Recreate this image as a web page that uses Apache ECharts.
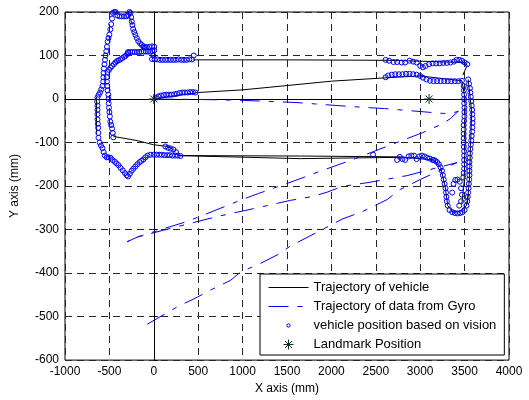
<!DOCTYPE html>
<html>
<head>
<meta charset="utf-8">
<script src="https://cdn.jsdelivr.net/npm/echarts@6/dist/echarts.min.js"></script>
<style>
  html, body { margin: 0; padding: 0; background: #fff; }
  #chart { width: 529px; height: 400px; }
</style>
</head>
<body>
<div id="chart"></div>
<script>
// axis ticks
const xTicks = [-1000, 4000, 500];
const yTicks = [-600, 200, 100];

// landmarks
const landmarks = [[0, 0], [3100, 0]];

// vehicle trajectory (black), drawn as separate visible pieces
const vehicleMid = [[0, 0], [500, 15], [1000, 21], [1500, 31], [2000, 41], [2630, 49], [3000, 53], [3470, 42], [3505, 0], [3505, -100], [3495, -190], [3470, -240]];
const vehicleTop = [[445, 90], [1500, 90], [2628, 89], [3000, 87], [3480, 84], [3530, 78], [3480, 55]];
const vehicleRight = [[3540, 45], [3580, -30], [3565, -120], [3555, -180], [3540, -220], [3530, -240]];
const vehicleU = [[3150, -140], [3230, -157], [3280, -200], [3310, -245], [3370, -260], [3450, -258], [3520, -245], [3540, -220]];
const vehicleBottom1 = [[277, -130], [1650, -131], [2774, -133], [3150, -140]];
const vehicleBottom2 = [[277, -130], [1650, -137], [2774, -134]];
const vehicleLeftLow = [[-454, -86], [-200, -95], [-4, -105], [153, -109], [220, -116]];
const vehicleLeftEdge = [[-646, 5], [-646, -80]];
const vehiclePeak = [[-290, 198], [-241, 171]];

// gyro trajectory (blue dash-dot)
const gyro = [[0, 0], [500, -1], [1000, -3], [1600, -8], [2200, -17], [2600, -22], [2900, -27], [3250, -33], [3350, -33], [3430, -28],
  [3340, -45], [3260, -56], [3030, -77], [2660, -106], [2270, -137], [1900, -164], [1570, -189], [1180, -217], [970, -233], [580, -265], [380, -281], [-170, -316], [-300, -328],
  [-200, -318], [100, -302], [445, -284], [715, -270], [1121, -252], [1537, -233], [1785, -224], [1953, -214], [2121, -201], [2414, -192], [2853, -176], [3112, -162], [3415, -146], [3430, -150],
  [3000, -185], [2774, -208], [2628, -231], [2358, -258], [2121, -276], [1841, -306], [1537, -338], [1402, -357], [1199, -378], [974, -398], [862, -417], [659, -437], [445, -460], [277, -476], [-128, -524]];

// vision positions (blue circles)
const visionStart = [[20, 3], [50, 6], [80, 8], [110, 9], [140, 10], [170, 10], [200, 10], [230, 11], [260, 12], [290, 14], [320, 15], [350, 15], [380, 15], [410, 16], [440, 16], [470, 15]];
const visionTopLeft = [[-20, 92], [10, 91], [40, 91], [70, 90], [100, 90], [130, 90], [160, 90], [190, 90], [220, 90], [250, 90], [280, 91], [310, 90], [340, 90], [370, 90], [400, 91], [430, 91], [450, 100], [-5, 100]];
const visionBand = [[-290, 108], [-265, 108], [-240, 108], [-215, 108], [-190, 108], [-165, 108], [-140, 109], [-115, 109], [-90, 109], [-65, 109], [-40, 109], [-15, 110], [5, 112],
  [-110, 118], [-80, 119], [-50, 120], [-20, 121], [5, 120]];
const visionPeak = [[-460, 198], [-445, 200], [-430, 200], [-410, 192], [-385, 190], [-360, 190], [-335, 190], [-310, 190], [-290, 193], [-275, 200], [-262, 198],
  [-255, 188], [-248, 178], [-241, 170], [-232, 161], [-220, 154], [-207, 147], [-192, 140], [-175, 133], [-155, 128], [-135, 124], [-115, 121], [-95, 119]];
const visionOuterLeft = [[-470, 185], [-480, 172], [-490, 160], [-500, 148], [-510, 140], [-520, 132], [-528, 120], [-535, 110], [-544, 100], [-550, 90], [-556, 80], [-562, 70], [-566, 60], [-568, 50],
  [-570, 40], [-578, 30], [-592, 22], [-605, 15], [-620, 10], [-634, 4], [-638, -6], [-634, -15], [-634, -25], [-634, -35], [-634, -47], [-630, -57], [-626, -66], [-624, -78], [-623, -89],
  [-610, -100], [-595, -107], [-578, -113], [-565, -122], [-552, -130], [-530, -134], [-510, -134], [-488, -135], [-465, -140], [-440, -144], [-420, -148], [-398, -152], [-375, -158],
  [-350, -164], [-325, -170], [-305, -175], [-290, -178], [-270, -172], [-250, -165], [-230, -160], [-207, -155], [-185, -150], [-160, -145], [-140, -142], [-117, -139], [-95, -134], [-70, -130]];
const visionInnerLeft = [[-522, 62], [-505, 67], [-488, 72], [-470, 76], [-450, 80], [-432, 84], [-415, 87], [-398, 89], [-376, 91], [-355, 94], [-335, 97], [-319, 99], [-300, 103], [-286, 106],
  [-530, 50], [-528, 40], [-524, 30], [-520, 20], [-512, 10], [-510, 0], [-508, -10], [-505, -20], [-500, -30], [-495, -40], [-490, -52], [-480, -60], [-470, -68], [-462, -78], [-456, -88]];
const visionBottomLeft = [[-38, -128], [0, -128], [30, -128], [60, -128], [90, -128], [120, -129], [150, -129], [180, -129], [210, -130], [240, -130], [270, -130], [300, -131],
  [130, -109], [160, -112], [190, -114], [220, -116], [250, -122]];
const visionRow1 = [[2610, 90], [2650, 88], [2700, 85], [2740, 85], [2790, 84], [2830, 84], [2880, 88], [2920, 86], [2960, 84], [3000, 76], [3030, 73], [3060, 76], [3100, 80], [3140, 82],
  [3180, 82], [3220, 82], [3260, 83], [3300, 83], [3340, 84], [3380, 86], [3410, 90], [3440, 90], [3470, 88], [3500, 84], [3530, 80]];
const visionRow2 = [[2610, 50], [2640, 54], [2680, 56], [2720, 57], [2760, 57], [2800, 57], [2840, 58], [2880, 58], [2920, 57], [2960, 56], [3000, 53], [3030, 49], [3070, 45], [3110, 42],
  [3150, 41], [3190, 41], [3230, 41], [3270, 41], [3310, 41], [3350, 41], [3390, 41], [3430, 41], [3470, 42]];
const visionColA = [[3490, 30], [3492, 20], [3494, 10], [3495, 0], [3496, -10], [3498, -20], [3498, -30], [3498, -40], [3495, -50], [3490, -60], [3490, -70], [3490, -80], [3490, -90],
  [3490, -100], [3492, -110], [3495, -120], [3495, -130], [3495, -140], [3495, -150], [3495, -160], [3490, -170], [3485, -180]];
const visionColB = [[3540, 45], [3550, 35], [3560, 25], [3565, 15], [3570, 5], [3575, -5], [3580, -15], [3585, -25], [3588, -35], [3590, -45], [3590, -55], [3588, -65], [3585, -75],
  [3580, -85], [3575, -95], [3570, -105], [3565, -115], [3560, -125], [3558, -135], [3555, -145], [3555, -155], [3555, -165], [3555, -175], [3552, -185], [3548, -195], [3545, -205],
  [3540, -215], [3535, -225], [3530, -235], [3520, -245], [3500, -255], [3475, -260], [3450, -262], [3420, -263], [3390, -262], [3360, -260], [3330, -255], [3310, -245], [3300, -235],
  [3295, -225], [3290, -215], [3285, -205], [3275, -195], [3265, -185], [3255, -175], [3245, -165], [3230, -157], [3210, -150], [3190, -145], [3170, -142], [3150, -140]];
const visionInnerRight = [[3360, -215], [3375, -195], [3395, -186], [3420, -185], [3445, -190], [3460, -205], [3470, -220], [3460, -235], [3440, -245]];
const visionBottomRight = [[2470, -128], [2740, -140], [2770, -133], [2800, -138], [2830, -140], [2870, -132], [2900, -130], [2930, -130], [2960, -138], [2990, -132], [3020, -130],
  [3050, -132], [3080, -135], [3110, -137], [3140, -140]];

const vision = [].concat(visionStart, visionTopLeft, visionBand, visionPeak, visionOuterLeft, visionInnerLeft,
  visionBottomLeft, visionRow1, visionRow2, visionColA, visionColB, visionInnerRight, visionBottomRight);

const font = "Liberation Sans, Arial, Helvetica, sans-serif";
const blue = "#0000ff";
const landmarkColor = "#10302e";
const asterisk = "path://M0,-10L0,10M-10,0L10,0M-7,-7L7,7M-7,7L7,-7";
const clear = "rgba(0,0,0,0)";
const gyroDash = [20, 9, 5, 9];

const chart = echarts.init(document.getElementById("chart"), null, { renderer: "canvas" });

function vehicleSeries(data) {
  return {
    name: "Trajectory of vehicle",
    type: "line",
    data: data,
    symbol: "none",
    silent: true,
    z: 2,
    itemStyle: { color: clear, borderWidth: 0 },
    lineStyle: { color: "#000", width: 1 },
  };
}

const option = {
  animation: false,
  backgroundColor: "#fff",
  textStyle: { fontFamily: font },
  grid: {
    left: 65,
    right: 20,
    top: 12,
    bottom: 39,
    show: true,
    borderColor: "#000",
    borderWidth: 1,
    backgroundColor: "transparent",
  },
  xAxis: {
    type: "value",
    min: xTicks[0],
    max: xTicks[1],
    interval: xTicks[2],
    name: "X axis (mm)",
    nameLocation: "middle",
    nameGap: 19,
    nameTextStyle: { fontSize: 12, color: "#000", fontFamily: font },
    axisLine: { show: true, lineStyle: { color: "#000", width: 1 } },
    axisTick: { inside: true, length: 4, lineStyle: { color: "#000" } },
    axisLabel: { fontSize: 12, color: "#000", margin: 6, fontFamily: font, formatter: v => String(v) },
    splitLine: { show: true, lineStyle: { color: "#262626", type: [7, 5], width: 1 } },
  },
  yAxis: {
    type: "value",
    min: yTicks[0],
    max: yTicks[1],
    interval: yTicks[2],
    name: "Y axis (mm)",
    nameLocation: "middle",
    nameGap: 44,
    nameTextStyle: { fontSize: 12, color: "#000", fontFamily: font },
    axisLine: { show: true, lineStyle: { color: "#000", width: 1 } },
    axisTick: { inside: true, length: 4, lineStyle: { color: "#000" } },
    axisLabel: { fontSize: 12, color: "#000", margin: 6, fontFamily: font, formatter: v => String(v) },
    splitLine: { show: true, lineStyle: { color: "#262626", type: [7, 5], width: 1 } },
  },
  legend: {
    orient: "vertical",
    left: 260,
    top: 274,
    padding: [7, 8, 4, 8],
    itemGap: 6,
    itemWidth: 40,
    itemHeight: 10,
    backgroundColor: "#fff",
    borderColor: "#000",
    borderWidth: 1,
    borderRadius: 0,
    textStyle: { fontSize: 13, color: "#000", fontFamily: font },
    data: [
      {
        name: "Trajectory of vehicle",
        itemStyle: { color: clear, borderWidth: 0 },
        lineStyle: { color: "#000", width: 1 },
      },
      {
        name: "Trajectory of data from Gyro",
        itemStyle: { color: clear, borderWidth: 0 },
        lineStyle: { color: blue, width: 1, type: gyroDash },
      },
      {
        name: "vehicle position based on vision",
        icon: "path://M-12,-12M12,12M-4,0A4,4,0,1,1,4,0A4,4,0,1,1,-4,0Z",
        itemStyle: { color: clear, borderColor: blue, borderWidth: 1 },
      },
      {
        name: "Landmark Position",
        icon: asterisk,
        itemStyle: { color: clear, borderColor: landmarkColor, borderWidth: 1 },
      },
    ],
  },
  series: [
    vehicleSeries(vehicleMid),
    vehicleSeries(vehicleTop),
    vehicleSeries(vehicleRight),
    vehicleSeries(vehicleU),
    vehicleSeries(vehicleBottom1),
    vehicleSeries(vehicleBottom2),
    vehicleSeries(vehicleLeftLow),
    vehicleSeries(vehicleLeftEdge),
    vehicleSeries(vehiclePeak),
    {
      name: "Trajectory of data from Gyro",
      type: "line",
      data: gyro,
      symbol: "none",
      silent: true,
      z: 3,
      itemStyle: { color: clear, borderWidth: 0 },
      lineStyle: { color: blue, width: 1, type: gyroDash },
    },
    {
      name: "vehicle position based on vision",
      type: "scatter",
      data: vision,
      symbol: "circle",
      symbolSize: 5,
      silent: true,
      z: 4,
      itemStyle: { color: clear, borderColor: blue, borderWidth: 1, opacity: 1 },
    },
    {
      name: "Landmark Position",
      type: "scatter",
      data: landmarks,
      symbol: asterisk,
      symbolSize: 10,
      silent: true,
      z: 5,
      itemStyle: { color: clear, borderColor: landmarkColor, borderWidth: 1, opacity: 1 },
    },
  ],
};

chart.setOption(option);
</script>
</body>
</html>
